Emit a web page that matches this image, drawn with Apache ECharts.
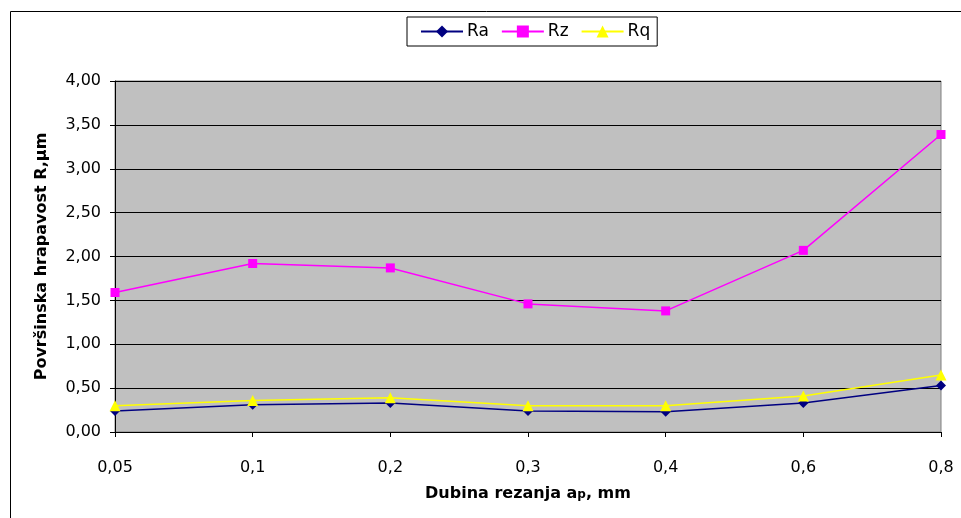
<!DOCTYPE html>
<html>
<head>
<meta charset="utf-8">
<script src="https://cdn.jsdelivr.net/npm/echarts@6/dist/echarts.min.js"></script>
<style>html,body{margin:0;padding:0;background:#fff}#c{width:961px;height:518px}</style>
</head>
<body>
<div id="c"></div>
<script>
const categories = ['0,05', '0,1', '0,2', '0,3', '0,4', '0,6', '0,8'];
const ra = [0.24, 0.31, 0.33, 0.24, 0.23, 0.33, 0.53];
const rz = [1.59, 1.92, 1.87, 1.46, 1.38, 2.07, 3.39];
const rq = [0.30, 0.36, 0.39, 0.30, 0.30, 0.41, 0.65];
const yTicks = { min: 0, max: 4, interval: 0.5 };

const chart = echarts.init(document.getElementById('c'));
const font = 'DejaVu Sans, Liberation Sans, Arial, sans-serif';
chart.setOption({
  animation: false,
  textStyle: { fontFamily: font },
  graphic: [{
    type: 'rect', shape: { x: 10.5, y: 11.5, width: 1200, height: 800 },
    style: { fill: null, stroke: '#000', lineWidth: 1 }, silent: true
  }],
  legend: {
    top: 17, left: 407,
    padding: [6, 7, 6, 13],
    itemGap: 12, itemWidth: 42, itemHeight: 15,
    borderColor: '#000', borderWidth: 1,
    textStyle: { fontSize: 17, color: '#000', fontFamily: font, padding: [0, 0, 0, -1] },
    data: ['Ra', 'Rz', 'Rq']
  },
  grid: {
    left: 115, right: 20, top: 81, bottom: 86,
    show: true, backgroundColor: '#C0C0C0', borderColor: '#808080', borderWidth: 1
  },
  xAxis: {
    type: 'category', data: categories, boundaryGap: false,
    axisLine: { lineStyle: { color: '#000', width: 1 } },
    axisTick: { show: true, length: 5, inside: false, lineStyle: { color: '#000' } },
    axisLabel: { fontSize: 16, color: '#000', margin: 28, fontFamily: font },
    name: '{t|Dubina rezanja a}{s|p}{t|, mm}',
    nameLocation: 'middle', nameGap: 54,
    nameTextStyle: {
      rich: {
        t: { fontSize: 16, fontWeight: 'bold', color: '#000', fontFamily: font },
        s: { fontSize: 12, fontWeight: 'bold', color: '#000', fontFamily: font, padding: [2, 0, 0, 0] }
      }
    }
  },
  yAxis: {
    type: 'value', min: yTicks.min, max: yTicks.max, interval: yTicks.interval,
    axisLine: { show: true, lineStyle: { color: '#000', width: 1 } },
    axisTick: { show: true, length: 5, lineStyle: { color: '#000' } },
    axisLabel: { fontSize: 16, color: '#000', margin: 14, fontFamily: font,
      formatter: v => v.toFixed(2).replace('.', ',') },
    splitLine: { show: true, lineStyle: { color: '#000', width: 1 } },
    name: 'Površinska hrapavost R,µm', nameLocation: 'middle', nameGap: 65,
    nameTextStyle: { fontSize: 16, fontWeight: 'bold', color: '#000', fontFamily: font }
  },
  series: [
    { name: 'Ra', type: 'line', data: ra, symbol: 'diamond', symbolSize: 10,
      lineStyle: { color: '#000080', width: 1.5 }, itemStyle: { color: '#000080' } },
    { name: 'Rz', type: 'line', data: rz, symbol: 'rect', symbolSize: 9,
      lineStyle: { color: '#FF00FF', width: 1.5 }, itemStyle: { color: '#FF00FF' } },
    { name: 'Rq', type: 'line', data: rq, symbol: 'triangle', symbolSize: 11,
      lineStyle: { color: '#FFFF00', width: 1.5 }, itemStyle: { color: '#FFFF00' } }
  ]
});
</script>
</body>
</html>
